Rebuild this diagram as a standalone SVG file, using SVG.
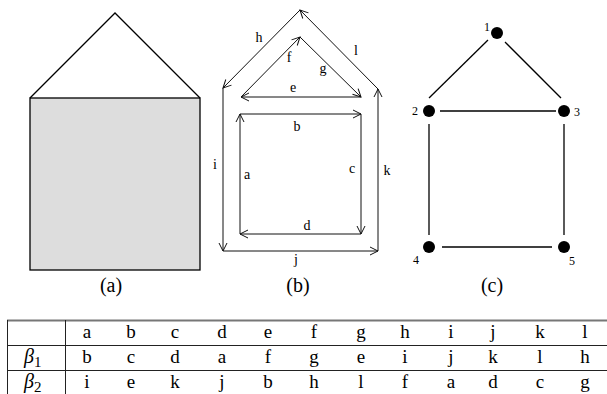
<svg xmlns="http://www.w3.org/2000/svg" width="607" height="394" viewBox="0 0 607 394">
<style>
.s{stroke:#000;stroke-width:1.3;fill:none}
.ar{stroke:#111;stroke-width:1;fill:none}
text{font-family:"Liberation Serif","Times New Roman","DejaVu Serif",serif;fill:#000}
.lb{font-size:14px;text-anchor:middle}
.nl{font-size:12px;text-anchor:middle}
.cap{font-size:20px;text-anchor:middle}
.tb{font-size:19px;text-anchor:middle}
.e{stroke:#000;stroke-width:1.3}
.tl{stroke:#222;stroke-width:1}
</style>
<defs>
<marker id="v" markerUnits="userSpaceOnUse" markerWidth="16" markerHeight="16" refX="0" refY="0" viewBox="-10 -8 12 16" orient="auto">
<path d="M-8,-4 L0,0 L-8,4" fill="none" stroke="#111" stroke-width="1"/>
</marker>
</defs>
<g id="panel-a">
<rect x="30" y="98" width="170" height="172" fill="#dddddd" stroke="#000" stroke-width="1.3"/>
<path class="s" d="M30,98 L115,13 L200,98"/>
<text class="cap" x="111" y="292">(a)</text>
</g>
<g id="panel-b">
<g id="edges-b">
<line class="ar" x1="300" y1="10" x2="223" y2="88" marker-end="url(#v)"/>
<line class="ar" x1="223" y1="88" x2="223" y2="251" marker-end="url(#v)"/>
<line class="ar" x1="223" y1="251" x2="378" y2="251" marker-end="url(#v)"/>
<line class="ar" x1="378" y1="251" x2="378" y2="89" marker-end="url(#v)"/>
<line class="ar" x1="378" y1="89" x2="300" y2="10" marker-end="url(#v)"/>
<line class="ar" x1="361" y1="97" x2="241" y2="97" marker-end="url(#v)"/>
<line class="ar" x1="241" y1="97" x2="300" y2="37" marker-end="url(#v)"/>
<line class="ar" x1="300" y1="37" x2="361" y2="97" marker-end="url(#v)"/>
<line class="ar" x1="240" y1="234" x2="240" y2="114" marker-end="url(#v)"/>
<line class="ar" x1="240" y1="114" x2="361" y2="114" marker-end="url(#v)"/>
<line class="ar" x1="361" y1="114" x2="361" y2="234" marker-end="url(#v)"/>
<line class="ar" x1="361" y1="234" x2="240" y2="234" marker-end="url(#v)"/>
</g>
<text class="lb" x="259" y="42">h</text>
<text class="lb" x="356" y="55">l</text>
<text class="lb" x="289" y="62">f</text>
<text class="lb" x="323" y="73">g</text>
<text class="lb" x="293" y="92">e</text>
<text class="lb" x="297" y="131">b</text>
<text class="lb" x="215" y="169">i</text>
<text class="lb" x="247" y="179">a</text>
<text class="lb" x="352" y="173">c</text>
<text class="lb" x="387" y="175">k</text>
<text class="lb" x="307" y="230">d</text>
<text class="lb" x="296" y="264">j</text>
<text class="cap" x="298" y="292">(b)</text>
</g>
<g id="panel-c">
<g id="edges-c">
<line class="e" x1="488" y1="40" x2="429" y2="98"/>
<line class="e" x1="505" y1="42" x2="561" y2="98"/>
<line class="e" x1="440" y1="111" x2="556" y2="111"/>
<line class="e" x1="429" y1="124" x2="429" y2="235"/>
<line class="e" x1="564" y1="124" x2="564" y2="235"/>
<line class="e" x1="442" y1="247" x2="552" y2="247"/>
</g>
<g id="n1"><circle cx="497" cy="33" r="6"/><text class="nl" x="487" y="31">1</text></g>
<g id="n2"><circle cx="429" cy="111" r="6"/><text class="nl" x="415" y="115">2</text></g>
<g id="n3"><circle cx="564" cy="111" r="6"/><text class="nl" x="577" y="116">3</text></g>
<g id="n4"><circle cx="429" cy="247" r="6"/><text class="nl" x="416" y="264">4</text></g>
<g id="n5"><circle cx="564" cy="247" r="6"/><text class="nl" x="572" y="265">5</text></g>
<text class="cap" x="492" y="292">(c)</text>
</g>
<g id="table">
<line x1="7" y1="320.5" x2="607" y2="320.5" stroke="#777" stroke-width="2"/>
<line class="tl" x1="7" y1="345.5" x2="607" y2="345.5"/>
<line class="tl" x1="7" y1="370.5" x2="607" y2="370.5"/>
<line class="tl" x1="7.5" y1="320" x2="7.5" y2="394"/>
<line class="tl" x1="65.5" y1="320" x2="65.5" y2="394"/>
<text x="24" y="363" font-size="20" font-style="italic">β<tspan font-style="normal" font-size="15" dy="4">1</tspan></text>
<text x="24" y="388" font-size="20" font-style="italic">β<tspan font-style="normal" font-size="15" dy="4">2</tspan></text>
<g class="tb">
<text x="87" y="338">a</text><text x="131" y="338">b</text><text x="175" y="338">c</text><text x="222" y="338">d</text><text x="268" y="338">e</text><text x="314" y="338">f</text><text x="361" y="338">g</text><text x="405" y="338">h</text><text x="451" y="338">i</text><text x="493" y="338">j</text><text x="540" y="338">k</text><text x="585" y="338">l</text>
<text x="87" y="363">b</text><text x="131" y="363">c</text><text x="175" y="363">d</text><text x="222" y="363">a</text><text x="268" y="363">f</text><text x="314" y="363">g</text><text x="361" y="363">e</text><text x="405" y="363">i</text><text x="451" y="363">j</text><text x="493" y="363">k</text><text x="540" y="363">l</text><text x="585" y="363">h</text>
<text x="87" y="388">i</text><text x="131" y="388">e</text><text x="175" y="388">k</text><text x="222" y="388">j</text><text x="268" y="388">b</text><text x="314" y="388">h</text><text x="361" y="388">l</text><text x="405" y="388">f</text><text x="451" y="388">a</text><text x="493" y="388">d</text><text x="540" y="388">c</text><text x="585" y="388">g</text>
</g>
</g>
</svg>
